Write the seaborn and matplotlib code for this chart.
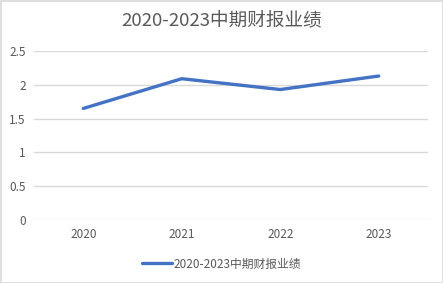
import matplotlib
matplotlib.use("Agg")
import matplotlib.pyplot as plt
import seaborn as sns
import pandas as pd
from matplotlib.patches import Rectangle

years = ["2020", "2021", "2022", "2023"]
values = [1.65, 2.09, 1.93, 2.13]
series_name = "2020-2023中期财报业绩"
title = "2020-2023中期财报业绩"
yticks = [0, 0.5, 1, 1.5, 2, 2.5]
ytick_labels = ["0", "0.5", "1", "1.5", "2", "2.5"]

sns.set_theme(style="white")
plt.rcParams['font.family'] = ['Noto Sans CJK SC', 'DejaVu Sans']

df = pd.DataFrame({"year": years, "value": values})
df["x"] = range(len(years))

fig = plt.figure(figsize=(4.43, 2.83), dpi=100)
ax = fig.add_axes([34/443, 1-220/283, (428-34)/443, (220-51)/283])

sns.lineplot(data=df, x="x", y="value", ax=ax, color="#4472C4", linewidth=2.4,
             label=series_name, legend=False)

ax.set_xlim(-0.5, len(years)-0.5)
ax.set_ylim(0, 2.5)
ax.set_yticks(yticks)
ax.set_yticklabels(ytick_labels)
ax.set_xticks(range(len(years)))
ax.set_xticklabels(years)
ax.set_xlabel("")
ax.set_ylabel("")
ax.grid(axis="y", color="#D9D9D9", linewidth=1)
ax.set_axisbelow(True)
for s in ax.spines.values():
    s.set_visible(False)
ax.tick_params(axis="both", length=0, labelsize=8.5, colors="#595959", pad=6)

fig.text(0.5, 1-20/283, title, ha="center", va="center", fontsize=13.4, color="#595959")

handles, labels = ax.get_legend_handles_labels()
fig.legend(handles, labels, loc="center", bbox_to_anchor=(0.5, 1-264/283), frameon=False,
           fontsize=8.5, labelcolor="#595959", handlelength=2.6, handletextpad=0.15)

fig.patches.append(Rectangle((0.5/443, 0.5/283), 1-1/443, 1-1/283, transform=fig.transFigure,
                             fill=False, edgecolor="#D9D9D9", linewidth=1.2))

fig.savefig("out.png", dpi=100)
